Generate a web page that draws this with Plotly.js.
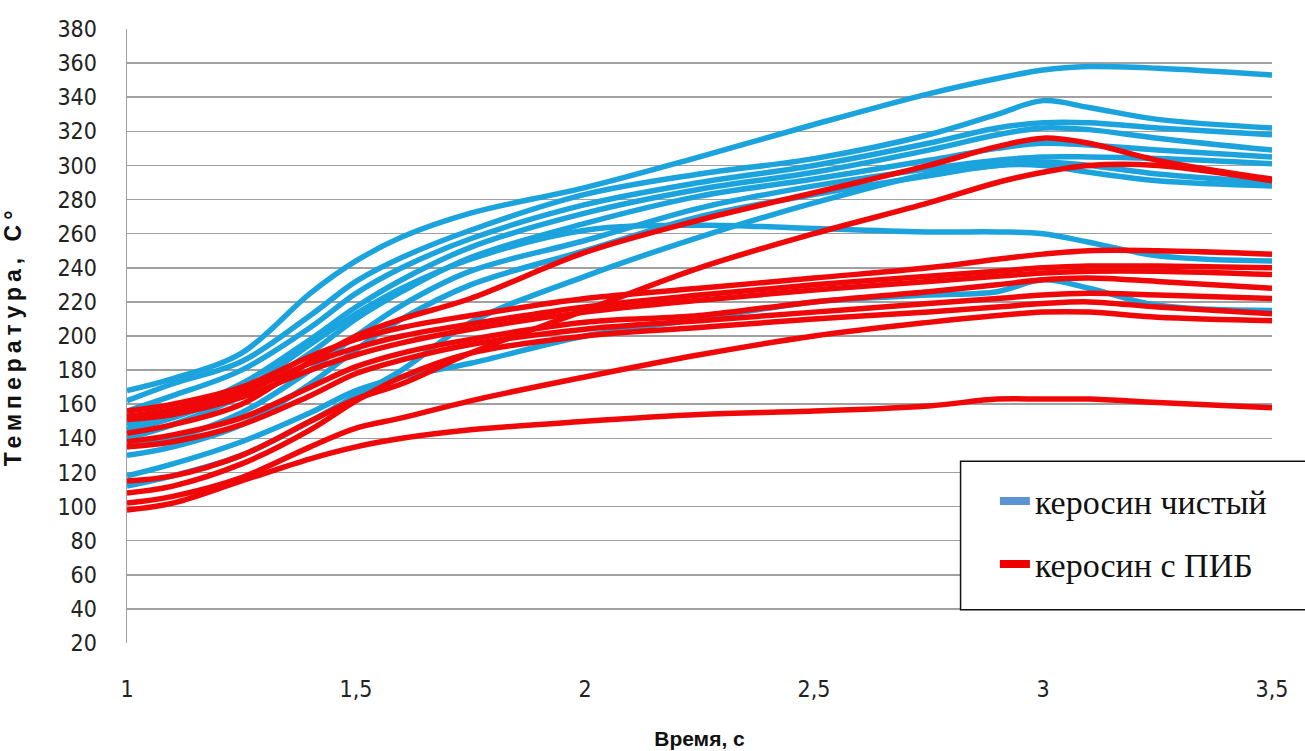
<!DOCTYPE html>
<html>
<head>
<meta charset="utf-8">
<script src="https://cdn.plot.ly/plotly-3.0.1.min.js"></script>
<style>
  html, body { margin: 0; padding: 0; background: #fff; }
  #chart { width: 1305px; height: 751px; }
  .ytitle { letter-spacing: 5px; }
</style>
</head>
<body>
<div id="chart"></div>
<script>
// Time, s
const timeS = [1, 1.1, 1.25, 1.4, 1.5, 1.6, 1.75, 2, 2.25, 2.5, 2.75, 2.9, 3, 3.1, 3.25, 3.5];

// керосин чистый (pure kerosene), °C
const pure1  = [168, 175, 190, 225, 244, 258, 272, 287, 305, 324, 342, 351, 356, 358, 357, 353];
const pure2  = [162, 172, 185, 212, 232, 246, 262, 283, 295, 304, 318, 330, 338, 334, 327, 322];
const pure3  = [156, 165, 180, 205, 225, 240, 257, 277, 290, 300, 313, 322, 325, 325, 322, 318];
const pure4  = [148, 155, 172, 198, 217, 233, 252, 272, 286, 296, 309, 318, 322, 321, 316, 309];
const pure5  = [140, 148, 165, 190, 210, 226, 246, 266, 282, 292, 303, 310, 313, 312, 309, 305];
const pure6  = [135, 140, 155, 180, 200, 218, 238, 256, 275, 288, 298, 303, 305, 305, 304, 301];
const pure7  = [130, 135, 148, 172, 192, 210, 230, 250, 270, 283, 294, 300, 300, 296, 291, 288];
const pure8  = [145, 152, 168, 195, 213, 228, 245, 262, 265, 263, 261, 261, 260, 255, 247, 244];
const pure9  = [118, 125, 138, 155, 168, 176, 184, 200, 210, 220, 224, 226, 233, 228, 218, 215];
const pure10 = [112, 118, 130, 150, 165, 180, 208, 235, 258, 278, 295, 300, 302, 300, 295, 290];

// керосин с ПИБ (kerosene with PIB), °C
const pib1  = [143, 148, 160, 185, 200, 210, 222, 249, 268, 284, 300, 311, 316, 313, 303, 292];
const pib2  = [115, 118, 130, 150, 163, 172, 190, 215, 240, 260, 278, 290, 296, 300, 300, 291];
const pib3  = [156, 160, 170, 188, 198, 205, 212, 222, 228, 234, 240, 245, 248, 250, 250, 248];
const pib4  = [153, 157, 167, 184, 193, 200, 207, 217, 224, 230, 235, 238, 240, 241, 241, 240];
const pib5  = [151, 154, 164, 180, 189, 196, 204, 214, 221, 227, 232, 235, 237, 238, 238, 236];
const pib6  = [138, 142, 152, 170, 182, 190, 198, 208, 212, 220, 226, 230, 233, 234, 232, 228];
const pib7  = [135, 138, 148, 165, 178, 186, 195, 204, 209, 214, 219, 222, 224, 225, 224, 222];
const pib8  = [108, 112, 125, 145, 162, 176, 190, 200, 205, 210, 214, 217, 219, 220, 217, 213];
const pib9  = [102, 106, 117, 135, 146, 152, 162, 176, 189, 200, 208, 212, 214, 214, 211, 209];
const pib10 = [98, 102, 115, 128, 135, 140, 145, 150, 154, 156, 159, 163, 163, 163, 161, 158];

const pureSeries = [pure1, pure2, pure3, pure4, pure5, pure6, pure7, pure8, pure9, pure10];
const pibSeries  = [pib1, pib2, pib3, pib4, pib5, pib6, pib7, pib8, pib9, pib10];

const legendNames = ['керосин чистый', 'керосин с ПИБ'];
const xTickVals = [1, 1.5, 2, 2.5, 3, 3.5];
const xTickText = ['1', '1,5', '2', '2,5', '3', '3,5'];

const blueLine = '#1ba3dd';
const redLine = '#f00808';

const traces = [];
pureSeries.forEach(ys => traces.push({
  x: timeS, y: ys, type: 'scatter', mode: 'lines',
  line: { color: blueLine, width: 5.5, shape: 'spline', smoothing: 1 },
  showlegend: false, hoverinfo: 'skip'
}));
pibSeries.forEach(ys => traces.push({
  x: timeS, y: ys, type: 'scatter', mode: 'lines',
  line: { color: redLine, width: 5.5, shape: 'spline', smoothing: 1 },
  showlegend: false, hoverinfo: 'skip'
}));
// legend entries
traces.push({ x: [null], y: [null], type: 'scatter', mode: 'lines', name: legendNames[0],
  legendgroup: 'a', line: { color: '#5b94d6', width: 8 } });
traces.push({ x: [null], y: [null], type: 'scatter', mode: 'lines', name: legendNames[1],
  legendgroup: 'b', line: { color: '#ee0000', width: 8 } });

const layout = {
  width: 1305, height: 751,
  margin: { l: 127, r: 33, t: 29, b: 108 },
  paper_bgcolor: '#ffffff', plot_bgcolor: '#ffffff',
  separators: ', ',
  showlegend: true,
  legend: {
    x: 0.758, xanchor: 'left', y: 0.278, yanchor: 'top',
    bgcolor: 'rgba(0,0,0,0)', borderwidth: 0,
    traceorder: 'grouped', tracegroupgap: 16,
    font: { family: 'Liberation Serif, Times New Roman, serif', size: 34, color: '#111' }
  },
  xaxis: {
    range: [1, 3.5], tickvals: xTickVals, ticktext: xTickText,
    showgrid: false, zeroline: false, showline: false,
    ticks: '', ticklabelstandoff: 30,
    tickfont: { family: 'Liberation Sans Narrow, DejaVu Sans Condensed, sans-serif', size: 23, color: '#222' },
    title: { text: 'Время, с', standoff: 30,
      font: { family: 'Liberation Sans, Arial, sans-serif', size: 21, color: '#111', weight: 'bold' } }
  },
  yaxis: {
    range: [20, 380], dtick: 20, tick0: 20,
    showgrid: true, gridcolor: '#a0a0a0', gridwidth: 1.5,
    zeroline: false, showline: true, linecolor: '#a0a0a0', linewidth: 1.5,
    ticks: '', ticklabelstandoff: 24,
    tickfont: { family: 'Liberation Sans Narrow, DejaVu Sans Condensed, sans-serif', size: 23, color: '#222' },
    title: { text: 'Температура, C°', standoff: 30,
      font: { family: 'Liberation Sans, Arial, sans-serif', size: 23, color: '#111', weight: 'bold' } }
  },
  shapes: [{
    type: 'rect', xref: 'paper', yref: 'paper', layer: 'above',
    x0: 0.728, x1: 1.03, y0: 0.054, y1: 0.296,
    line: { color: '#111', width: 1.5 }, fillcolor: '#ffffff'
  }]
};

Plotly.newPlot('chart', traces, layout, { displayModeBar: false, staticPlot: true });
</script>
</body>
</html>
